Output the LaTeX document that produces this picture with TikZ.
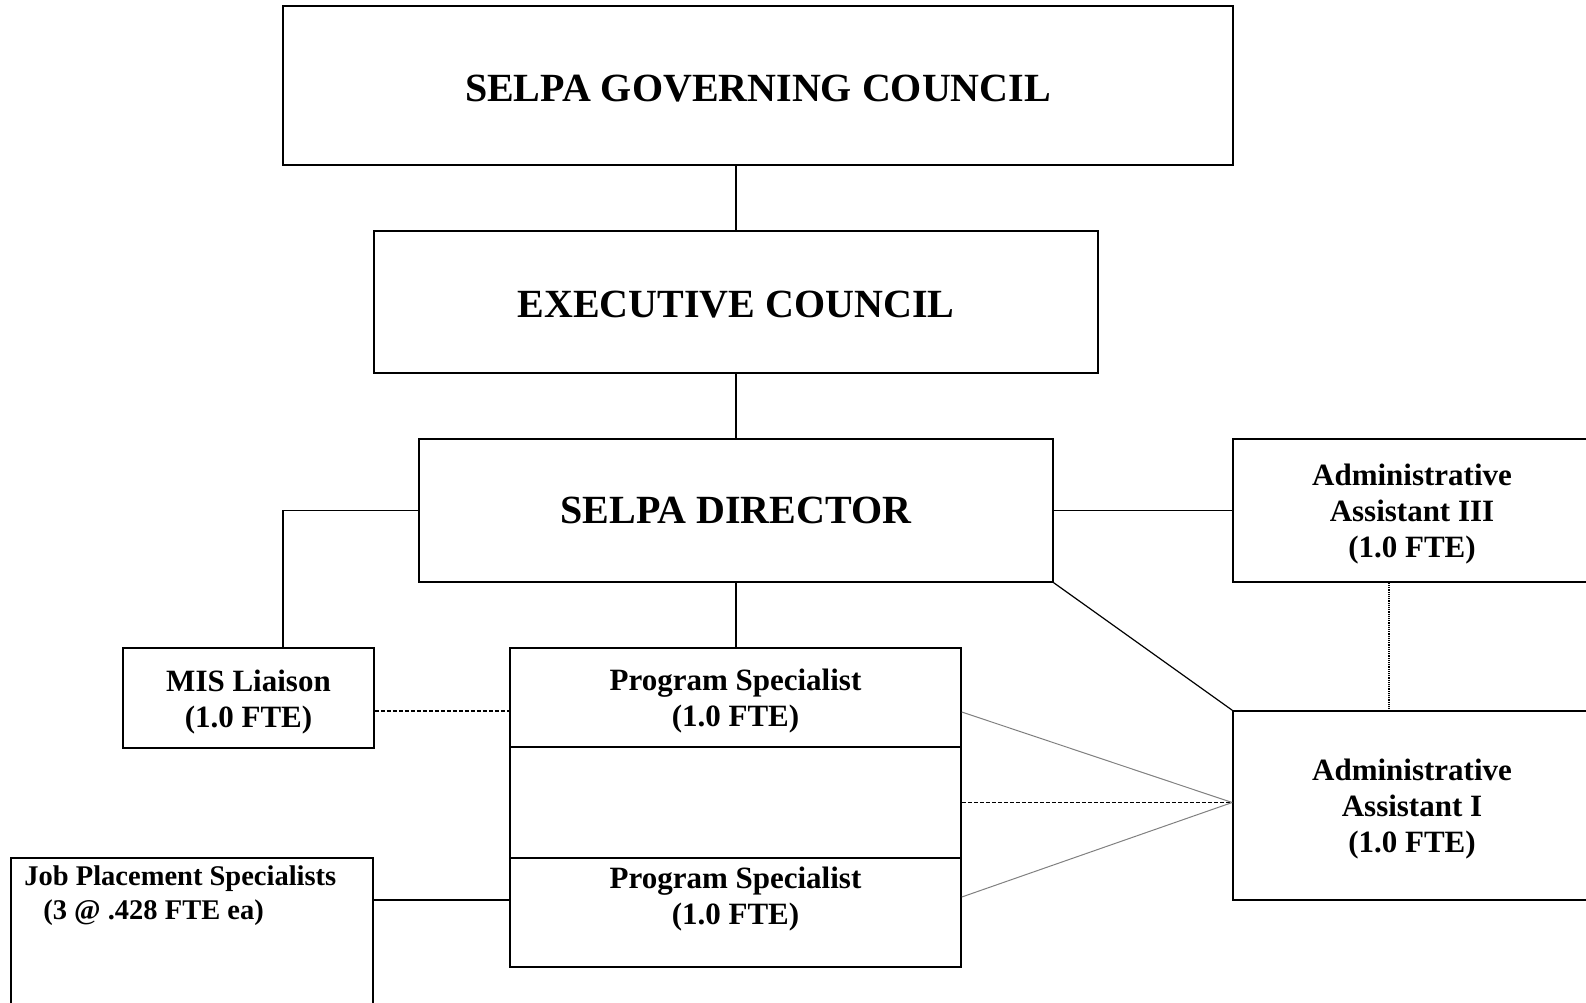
\documentclass[tikz,border=0pt]{standalone}
\usepackage{fontspec}
\setmainfont{Liberation Serif}
\usetikzlibrary{positioning}
\newcommand{\tstrut}{\rule{0pt}{14.5pt}}

\begin{document}
\begin{tikzpicture}[x=0.5pt, y=-0.5pt,
  orgbox/.style={draw, line width=0.8pt, inner sep=0pt, align=center},
  bigtxt/.style={font=\fontsize{20}{24}\selectfont\bfseries},
  smalltxt/.style={font=\fontsize{15.5}{18}\selectfont\bfseries},
  link/.style={line width=0.8pt},
  dashlink/.style={line width=0.7pt, dash pattern=on 2pt off 1pt},
  dotlink/.style={line width=0.6pt, dash pattern=on 0.6pt off 0.5pt},
  graylink/.style={line width=0.5pt, gray}]
\useasboundingbox (0,0) rectangle (1586,1002);

% top of the chart
\node[orgbox, bigtxt, minimum width=475pt, minimum height=79.5pt] (gov) at (758,85.5) {\rule{0pt}{16.5pt}SELPA GOVERNING COUNCIL};
\node[orgbox, bigtxt, minimum width=362pt, minimum height=71pt] (exec) at (736,302) {\rule{0pt}{15.5pt}EXECUTIVE COUNCIL};
\node[orgbox, bigtxt, minimum width=317pt, minimum height=71.5pt] (dir) at (736,510.5) {SELPA DIRECTOR};

% staff
\node[orgbox, smalltxt, minimum width=179pt, minimum height=71.5pt] (aa3) at (1412,510.5) {\tstrut Administrative\\Assistant III\\(1.0 FTE)};
\node[orgbox, smalltxt, minimum width=179pt, minimum height=94.5pt] (aa1) at (1412,805.5) {\tstrut Administrative\\Assistant I\\(1.0 FTE)};
\node[orgbox, smalltxt, minimum width=125.5pt, minimum height=50pt] (mis) at (248.5,698) {\tstrut MIS Liaison\\(1.0 FTE)};

\node[orgbox, smalltxt, minimum width=225.5pt, minimum height=49.5pt] (ps1) at (735.5,697.5) {\tstrut Program Specialist\\(1.0 FTE)};
\node[orgbox, minimum width=225.5pt, minimum height=55.5pt] (psmid) at (735.5,802.5) {};
\node[orgbox, minimum width=225.5pt, minimum height=54.5pt] (ps2) at (735.5,912.5) {};
\node[smalltxt, inner sep=0pt, align=center, anchor=north] (ps2txt) at (735.5,867) {Program Specialist\\(1.0 FTE)};

\node[orgbox, minimum width=181pt, minimum height=76pt] (jps) at (192,934) {};
\node[font=\fontsize{14.25}{17}\selectfont\bfseries, inner sep=0pt, align=left, anchor=north west] (jpstxt) at (24,865) {Job Placement Specialists\\\hspace{9.5pt}(3 @ .428 FTE ea)};

% lines
\coordinate (misup) at (283,648);
\draw[link] (exec.north) -- (exec.north |- gov.south);
\draw[link] (dir.north) -- (dir.north |- exec.south);
\draw[link] (dir.south) -- (dir.south |- ps1.north);
\draw[link] (dir.west) -| (misup);
\draw[link] (dir.east) -- (aa3.west);
\draw[line width=0.6pt] (dir.south east) -- (aa1.north west);
\draw[dotlink] ([xshift=-11.5pt]aa3.south) -- ([xshift=-11.5pt]aa1.north);
\draw[dashlink] ([yshift=-6.5pt]mis.east) -- ([yshift=-6.5pt]mis.east -| ps1.west);
\draw[link] ([yshift=6.25pt]ps2.west) -- ([yshift=6.25pt]ps2.west -| jps.east);
\draw[dashlink] (psmid.east) -- (psmid.east -| aa1.west);
\draw[graylink] ([yshift=-7.25pt]ps1.east) -- (psmid.east -| aa1.west);
\draw[graylink] ([yshift=7.75pt]ps2.east) -- (psmid.east -| aa1.west);
\end{tikzpicture}
\end{document}
